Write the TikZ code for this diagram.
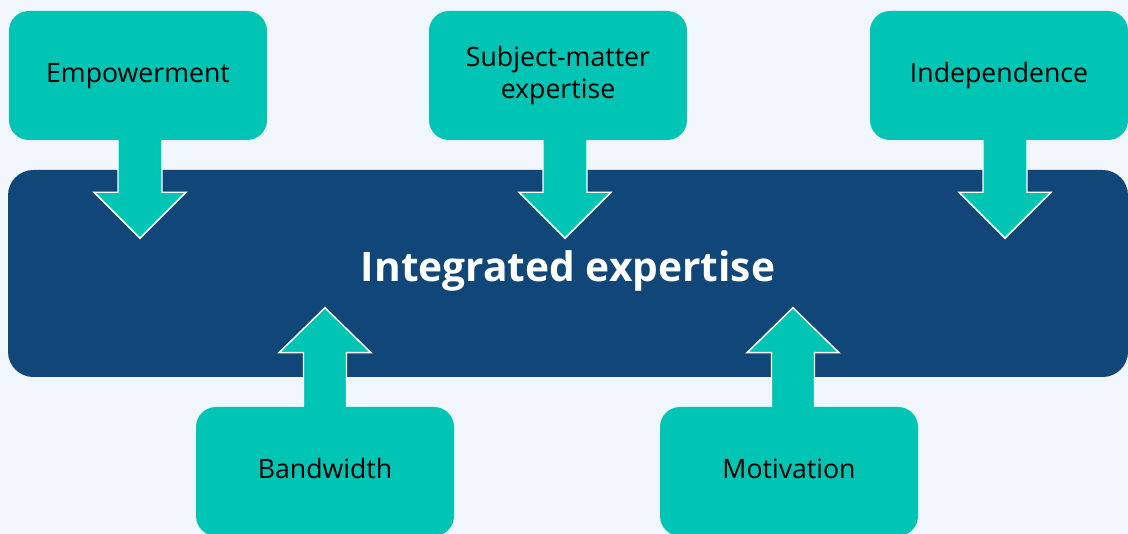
\documentclass[tikz,border=0pt]{standalone}
\usepackage{fontspec}
\setmainfont{Open Sans}
\usetikzlibrary{calc}
\definecolor{pagebg}{RGB}{241,245,252}
\definecolor{tealbox}{RGB}{0,196,180}
\definecolor{navybox}{RGB}{17,70,120}
\pgfdeclarelayer{hublayer}
\pgfdeclarelayer{arrowlayer}
\pgfsetlayers{hublayer,arrowlayer,main}
\tikzset{
  factor/.style={fill=tealbox, rounded corners=15pt, minimum width=193.5pt,
    minimum height=96.75pt, inner sep=0pt, align=center, text=black,
    font=\fontsize{20}{24}\selectfont},
  oneline/.style={text height=15pt, text depth=5pt},
  hub/.style={fill=navybox, rounded corners=19pt, minimum width=840pt,
    minimum height=155.25pt, inner sep=0pt, text=white,
    text height=23pt, text depth=10.5pt,
    font=\fontsize{30.5}{36}\selectfont\bfseries},
  blockarrow/.style={fill=tealbox, draw=white, line width=1.1pt, line join=miter}
}
% block arrow pointing down from the bottom of a node; #2 = x offset of its axis
\newcommand\arrowdown[2]{%
  \draw[blockarrow] ($(#1.south)+(#2-22,-12)$) -- ($(#1.south)+(#2-22,52)$)
    -- ($(#1.south)+(#2-46,52)$) -- ($(#1.south)+(#2,98)$)
    -- ($(#1.south)+(#2+46,52)$) -- ($(#1.south)+(#2+22,52)$)
    -- ($(#1.south)+(#2+22,-12)$) -- cycle;}
% block arrow pointing up from the top of a node
\newcommand\arrowup[2]{%
  \draw[blockarrow] ($(#1.north)+(#2-21.5,12)$) -- ($(#1.north)+(#2-21.5,-54)$)
    -- ($(#1.north)+(#2-46,-54)$) -- ($(#1.north)+(#2,-99)$)
    -- ($(#1.north)+(#2+46,-54)$) -- ($(#1.north)+(#2+21.5,-54)$)
    -- ($(#1.north)+(#2+21.5,12)$) -- cycle;}
\begin{document}
\begin{tikzpicture}[x=0.75pt, y=-0.75pt]
  \begin{pgfonlayer}{hublayer}
    \fill[pagebg] (0,0) rectangle (1128,534);
    \node[hub] (hub) at (568,273.5) {Integrated expertise};
  \end{pgfonlayer}
  \useasboundingbox (0,0) rectangle (1128,534);

  \node[factor, oneline] (emp)   at (138,75.5)  {Empowerment};
  \node[factor]          (subj)  at (558,75.5)  {Subject-matter\\expertise};
  \node[factor, oneline] (indep) at (999,75.5)  {Independence};
  \node[factor, oneline] (band)  at (325,471.5) {Bandwidth};
  \node[factor, oneline] (motiv) at (789,471.5) {Motivation};

  % arrows sit between the hub and the factor boxes
  \begin{pgfonlayer}{arrowlayer}
    \arrowdown{emp}{2}
    \arrowdown{subj}{7}
    \arrowdown{indep}{6}
    \arrowup{band}{0}
    \arrowup{motiv}{4}
  \end{pgfonlayer}
\end{tikzpicture}
\end{document}
